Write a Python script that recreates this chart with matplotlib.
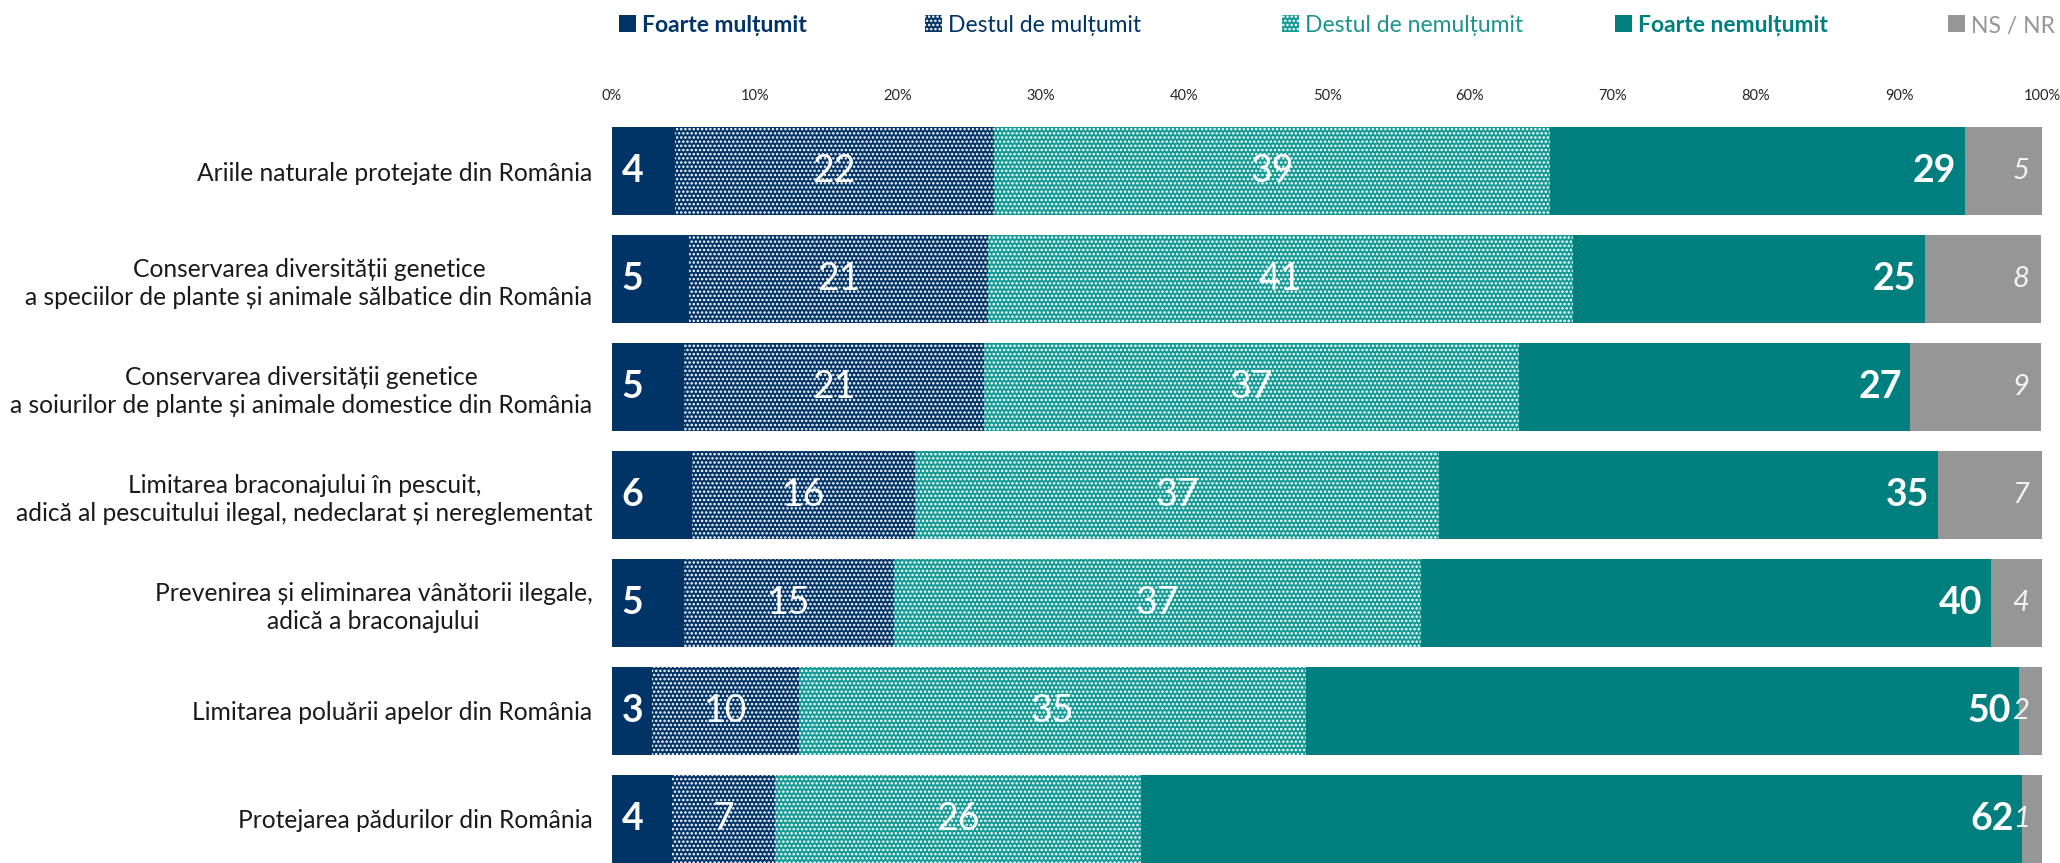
import matplotlib
matplotlib.use('Agg')
import matplotlib.pyplot as plt
from matplotlib.patches import Rectangle

plt.rcParams['font.family'] = ['Lato', 'DejaVu Sans']
plt.rcParams['hatch.linewidth'] = 1.2

categories = [
    'Ariile naturale protejate din România',
    'Conservarea diversității genetice\na speciilor de plante și animale sălbatice din România',
    'Conservarea diversității genetice\na soiurilor de plante și animale domestice din România',
    'Limitarea braconajului în pescuit,\nadică al pescuitului ilegal, nedeclarat și nereglementat',
    'Prevenirea și eliminarea vânătorii ilegale,\nadică a braconajului',
    'Limitarea poluării apelor din România',
    'Protejarea pădurilor din România',
]
series_names = ['Foarte mulțumit', 'Destul de mulțumit', 'Destul de nemulțumit',
                'Foarte nemulțumit', 'NS / NR']

# values (percent)
foarte_multumit = [4.4, 5.4, 5.0, 5.6, 5.0, 2.8, 4.2]
destul_multumit = [22.3, 20.9, 21.0, 15.6, 14.7, 10.3, 7.2]
destul_nemultumit = [38.9, 40.9, 37.4, 36.6, 36.9, 35.4, 25.6]
foarte_nemultumit = [29.0, 24.6, 27.4, 34.9, 39.8, 49.9, 61.6]
ns_nr = [5.4, 8.1, 9.1, 7.4, 3.6, 1.6, 1.4]

xticks = [0, 10, 20, 30, 40, 50, 60, 70, 80, 90, 100]

navy = '#003366'
teal = '#007F7F'
teal_dot = '#149A94'
grey = '#969696'

fills = [navy, navy, teal_dot, teal, grey]
hatches = [None, '....', '....', None, None]
text_colors = [navy, navy, '#1B948E', teal, grey]
weights = ['bold', 'normal', 'normal', 'bold', 'normal']

W, H = 2060, 863
fig = plt.figure(figsize=(W / 100, H / 100), dpi=100)
ax = fig.add_axes([612 / W, 0.0, (2042 - 612) / W, 1 - 127 / H])

y = list(range(len(categories)))
bar_h = 0.82
data = [foarte_multumit, destul_multumit, destul_nemultumit, foarte_nemultumit, ns_nr]
left = [0.0] * len(categories)
containers = []
for vals, fc, hatch in zip(data, fills, hatches):
    bc = ax.barh(y, vals, left=left, height=bar_h, color=fc,
                 hatch=hatch, edgecolor='white' if hatch else fc, linewidth=0)
    containers.append(bc)
    left = [l + v for l, v in zip(left, vals)]

# value labels
for i in range(len(categories)):
    ax.annotate(f'{foarte_multumit[i]:.0f}', xy=(0, i), xytext=(7, 0),
                textcoords='offset points', ha='left', va='center',
                color='white', fontsize=27, fontweight='bold')
    end4 = foarte_multumit[i] + destul_multumit[i] + destul_nemultumit[i] + foarte_nemultumit[i]
    ax.annotate(f'{foarte_nemultumit[i]:.0f}', xy=(end4, i), xytext=(-6, 0),
                textcoords='offset points', ha='right', va='center',
                color='white', fontsize=27, fontweight='bold')
    ax.annotate(f'{ns_nr[i]:.0f}', xy=(100, i), xytext=(-9, 0),
                textcoords='offset points', ha='right', va='center',
                color='#F2F2F2', fontsize=21, fontstyle='italic')
for bc, vals in zip(containers[1:3], data[1:3]):
    ax.bar_label(bc, labels=[f'{v:.0f}' for v in vals], label_type='center',
                 color='white', fontsize=27)

ax.set_xlim(0, 100)
ax.set_ylim(len(categories) - 1 + bar_h / 2, -bar_h / 2)
ax.set_xticks(xticks)
ax.set_xticklabels([f'{t}%' for t in xticks])
ax.xaxis.tick_top()
ax.tick_params(axis='x', length=0, pad=17, labelsize=10.5, labelcolor='#262626')
ax.set_yticks(y)
ax.set_yticklabels(categories, multialignment='center', linespacing=1.25)
ax.tick_params(axis='y', length=0, pad=14, labelsize=17.7, labelcolor='#1a1a1a')
for s in ax.spines.values():
    s.set_visible(False)

# legend across the top, entries placed like the original
legend_x = [619, 925, 1282, 1615, 1948]
sq = 17
ly = H - 24
for x0, name, fc, h, tc, w in zip(legend_x, series_names, fills, hatches, text_colors, weights):
    fig.patches.append(Rectangle((x0 / W, (ly - sq / 2) / H), sq / W, sq / H,
                                 transform=fig.transFigure, facecolor=fc, hatch=h,
                                 edgecolor='white' if h else fc, linewidth=0))
    fig.text((x0 + sq + 6) / W, ly / H, name, ha='left', va='center_baseline',
             fontsize=16.5, color=tc, fontweight=w)

fig.savefig('out.png', dpi=100)
